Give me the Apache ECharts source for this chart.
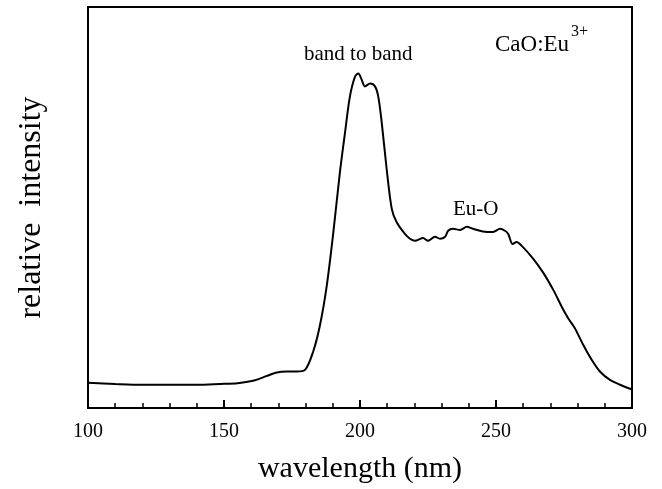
<!DOCTYPE html>
<html>
<head>
<meta charset="utf-8">
<script src="https://cdn.jsdelivr.net/npm/echarts@6/dist/echarts.min.js"></script>
<style>
  html, body { margin: 0; padding: 0; background: #fff; }
  #chart { width: 662px; height: 489px; }
</style>
</head>
<body>
<div id="chart"></div>
<script>
// excitation spectrum (arbitrary intensity units, 0-100)
const wavelengths = [100, 110, 120, 130, 140, 148.5, 155, 160.7, 165.8, 169, 173.2, 176.7, 179.8, 182.8, 185.3, 187.8, 190.2,
  192.6, 194.5, 196.3, 198.2, 199.4, 200.6, 201.8, 203.7, 205.5, 206.7, 208.0, 209.8, 211.7, 213.5, 216.5, 218.4,
  220.2, 223.2, 225, 227.6, 229.4, 231.3, 232.4, 234.2, 236.8, 239.3, 241.5, 246.7, 248.9, 251.5, 253.3, 254.5,
  256.1, 257.6, 259.4, 263.7, 267.4, 271.1, 274.2, 276.6, 279.0, 282.1, 285.2, 288.2, 291.9, 295.6, 299.3, 300];
const intensity = [6.3, 6.0, 5.8, 5.8, 5.8, 6.0, 6.2, 6.8, 8.0, 8.8, 9.1, 9.1, 9.5, 14.1, 20.7, 30.6, 43.8,
  58.7, 68.7, 77.7, 82.7, 83.4, 81.9, 80.2, 80.9, 80.2, 77.7, 71.1, 59.6, 49.6, 46.3, 43.4, 42.2,
  41.7, 42.4, 41.7, 42.7, 42.2, 42.7, 44.2, 44.7, 44.4, 45.2, 44.7, 43.9, 43.9, 44.7, 44.2, 43.4,
  40.9, 41.4, 40.5, 37.2, 33.7, 29.4, 25.2, 22.3, 19.9, 15.7, 12.0, 9.1, 7.0, 5.8, 4.8, 4.7];
const xTicks = [100, 150, 200, 250, 300];

const serif = 'Liberation Serif';
const chart = echarts.init(document.getElementById('chart'));

const option = {
  backgroundColor: '#fff',
  animation: false,
  grid: {
    left: 88, right: 30, top: 7, bottom: 79,
    show: true, borderColor: '#000', borderWidth: 2
  },
  xAxis: {
    type: 'value',
    min: xTicks[0],
    max: xTicks[xTicks.length - 1],
    interval: 50,
    name: 'wavelength (nm)',
    nameLocation: 'middle',
    nameGap: 46,
    nameTextStyle: { fontFamily: serif, fontSize: 30, color: '#000' },
    axisLine: { lineStyle: { color: '#000', width: 2 } },
    axisTick: { inside: true, length: 8, lineStyle: { color: '#000', width: 2 } },
    minorTick: { show: true, splitNumber: 5, length: 5, lineStyle: { color: '#000', width: 1.5 } },
    axisLabel: { fontFamily: serif, fontSize: 20, color: '#000', margin: 14 },
    splitLine: { show: false }
  },
  yAxis: {
    type: 'value',
    min: 0,
    max: 100,
    name: 'relative  intensity',
    nameLocation: 'middle',
    nameGap: 40,
    nameRotate: 90,
    nameTextStyle: { fontFamily: serif, fontSize: 32, color: '#000' },
    axisLine: { lineStyle: { color: '#000', width: 2 } },
    axisTick: { show: false },
    axisLabel: { show: false },
    splitLine: { show: false }
  },
  graphic: [
    { type: 'text', left: 304, top: 44, style: { text: 'band to band', fontFamily: serif, fontSize: 21, fill: '#000' } },
    { type: 'text', left: 453, top: 199, style: { text: 'Eu-O', fontFamily: serif, fontSize: 21, fill: '#000' } },
    { type: 'text', left: 495, top: 33, style: { text: 'CaO:Eu', fontFamily: serif, fontSize: 23, fill: '#000' } },
    { type: 'text', left: 571, top: 24, style: { text: '3+', fontFamily: serif, fontSize: 16, fill: '#000' } }
  ],
  series: [{
    type: 'line',
    data: wavelengths.map((w, i) => [w, intensity[i]]),
    smooth: 0.3,
    showSymbol: false,
    lineStyle: { color: '#000', width: 2 }
  }]
};
chart.setOption(option);
</script>
</body>
</html>
